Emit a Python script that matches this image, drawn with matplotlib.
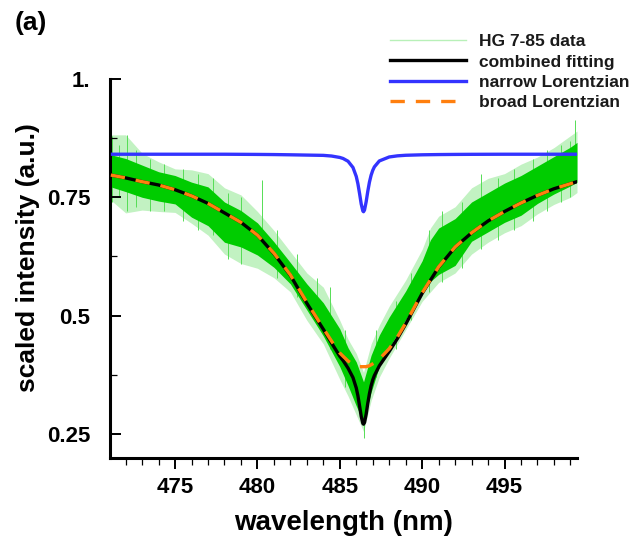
import matplotlib
matplotlib.use('Agg')
import matplotlib.pyplot as plt
from matplotlib.lines import Line2D
from matplotlib.ticker import MultipleLocator

plt.rcParams['font.family'] = ['Liberation Sans', 'DejaVu Sans']
plt.rcParams['font.weight'] = 'bold'

# ---- fitted curves ----
fit_x = [471.1, 472, 473, 474, 475, 476, 477, 478, 479, 480, 481, 482, 483, 484,
         484.5, 485, 485.2, 485.5, 485.8, 486.0, 486.1, 486.2, 486.3, 486.4, 486.44,
         486.5, 486.6, 486.7, 486.8, 486.9, 487.0, 487.1, 487.4, 488, 488.5, 489,
         490, 491, 492, 493, 494, 495, 496, 497, 498, 499.4]
broad_y = [0.797, 0.791, 0.783, 0.776, 0.766, 0.753, 0.737, 0.717, 0.697, 0.670,
           0.632, 0.586, 0.528, 0.473, 0.446, 0.421, 0.414, 0.404, 0.397, 0.394,
           0.393, 0.392, 0.392, 0.392, 0.392, 0.392, 0.392, 0.393, 0.394, 0.396,
           0.398, 0.400, 0.408, 0.430, 0.455, 0.484, 0.548, 0.603, 0.645, 0.675,
           0.700, 0.720, 0.738, 0.754, 0.768, 0.783]
narrow_y = [0.841, 0.841, 0.841, 0.841, 0.841, 0.841, 0.841, 0.841, 0.8408, 0.8406,
            0.8403, 0.8398, 0.8392, 0.8386, 0.8372, 0.8342, 0.8320, 0.8262, 0.813,
            0.794, 0.7785, 0.758, 0.736, 0.7211, 0.7195, 0.723, 0.7405, 0.7627,
            0.782, 0.7965, 0.8069, 0.8143, 0.8268, 0.8352, 0.8376, 0.8388, 0.8398,
            0.8403, 0.8406, 0.8408, 0.8409, 0.841, 0.841, 0.841, 0.841, 0.841]
combined_y = [0.797, 0.791, 0.783, 0.776, 0.766, 0.753, 0.737, 0.717, 0.697, 0.670,
              0.631, 0.585, 0.526, 0.471, 0.442, 0.414, 0.405, 0.389, 0.369, 0.347,
              0.3305, 0.309, 0.287, 0.2721, 0.2705, 0.274, 0.2915, 0.3147, 0.335,
              0.3515, 0.3639, 0.3733, 0.3938, 0.4242, 0.4516, 0.4818, 0.5468,
              0.6023, 0.6446, 0.6748, 0.6999, 0.720, 0.738, 0.754, 0.768, 0.783]

data_x = [471.1, 472, 473, 474, 475, 476, 477, 478, 479, 480, 481, 482, 483, 484,
          485, 485.5, 486.0, 486.44, 486.9, 487.4, 488, 489, 490, 490.5, 491, 492,
          493, 494, 495, 496, 497, 498, 499, 499.4]
data_core_lo = [0.772, 0.762, 0.750, 0.742, 0.736, 0.708, 0.690, 0.655, 0.645, 0.628,
                0.602, 0.567, 0.512, 0.457, 0.392, 0.352, 0.309, 0.275, 0.338, 0.393,
                0.432, 0.492, 0.547, 0.572, 0.587, 0.606, 0.657, 0.677, 0.697, 0.712,
                0.737, 0.757, 0.774, 0.782]
data_core_hi = [0.840, 0.832, 0.818, 0.804, 0.796, 0.782, 0.772, 0.740, 0.722, 0.696,
                0.656, 0.612, 0.567, 0.527, 0.472, 0.432, 0.402, 0.360, 0.416, 0.459,
                0.497, 0.552, 0.616, 0.660, 0.685, 0.705, 0.740, 0.760, 0.780, 0.796,
                0.816, 0.836, 0.856, 0.866]
data_outer_lo = [0.744, 0.717, 0.723, 0.720, 0.718, 0.695, 0.670, 0.630, 0.610, 0.600,
                 0.580, 0.550, 0.490, 0.440, 0.365, 0.330, 0.290, 0.255, 0.320, 0.370,
                 0.410, 0.470, 0.530, 0.550, 0.570, 0.590, 0.630, 0.655, 0.675, 0.690,
                 0.715, 0.735, 0.750, 0.760]
data_outer_hi = [0.882, 0.882, 0.843, 0.825, 0.810, 0.808, 0.800, 0.770, 0.755, 0.720,
                 0.680, 0.635, 0.590, 0.560, 0.490, 0.450, 0.420, 0.380, 0.440, 0.480,
                 0.520, 0.575, 0.640, 0.685, 0.710, 0.730, 0.770, 0.790, 0.800, 0.820,
                 0.835, 0.855, 0.880, 0.890]
spike_x = [471.2, 471.6, 472.1, 472.6, 473.5, 474.3, 475.5, 476.4, 477.3, 478.2,
           479.0, 480.3, 481.2, 482.4, 483.6, 484.4, 485.3, 486.45, 487.2, 488.4,
           489.3, 490.4, 491.2, 492.4, 493.6, 494.6, 495.6, 496.7, 497.6, 498.4,
           499.0, 499.25]
spike_lo = [0.740, 0.750, 0.720, 0.730, 0.720, 0.720, 0.700, 0.680, 0.670, 0.620,
            0.610, 0.660, 0.580, 0.540, 0.480, 0.430, 0.350, 0.241, 0.370, 0.430,
            0.490, 0.550, 0.570, 0.600, 0.640, 0.660, 0.680, 0.700, 0.720, 0.740,
            0.750, 0.790]
spike_hi = [0.880, 0.860, 0.882, 0.850, 0.830, 0.820, 0.810, 0.800, 0.790, 0.760,
            0.750, 0.786, 0.680, 0.630, 0.580, 0.560, 0.470, 0.300, 0.470, 0.530,
            0.590, 0.680, 0.720, 0.740, 0.800, 0.790, 0.810, 0.830, 0.850, 0.860,
            0.870, 0.913]

xticks = [475, 480, 485, 490, 495]
yticks = [0.25, 0.5, 0.75, 1.0]
ytick_labels = ['0.25', '0.5', '0.75', '1.']

W, H = 631, 539
fig = plt.figure(figsize=(W / 100, H / 100), dpi=100)
ax = fig.add_axes([110 / W, 1 - 458 / H, 467 / W, 379 / H])

green = '#00cc00'
ax.fill_between(data_x, data_outer_lo, data_outer_hi, color='#c2f2c2', lw=0, zorder=1)
ax.vlines(spike_x, spike_lo, spike_hi, color='#55dd55', lw=0.7, zorder=1.5)
ax.fill_between(data_x, data_core_lo, data_core_hi, color=green, lw=0, zorder=2)

ax.plot(fit_x, narrow_y, color='#3333ff', lw=2.4, zorder=4, solid_capstyle='butt')
ax.plot(fit_x, combined_y, color='black', lw=2.4, zorder=5)
ax.plot(fit_x, broad_y, color='#ff7f0e', lw=2.4, dashes=(4.3, 3.3), zorder=6)

ax.set_xlim(471.05, 499.4)
ax.set_ylim(0.199, 1.0)
ax.set_xticks(xticks)
ax.xaxis.set_minor_locator(MultipleLocator(1))
ax.set_yticks(yticks)
ax.set_yticklabels(ytick_labels)
ax.yaxis.set_minor_locator(MultipleLocator(0.125))

for s in ['top', 'right']:
    ax.spines[s].set_visible(False)
for s in ['left', 'bottom']:
    ax.spines[s].set_linewidth(2.2)

ax.tick_params(axis='x', which='major', direction='out', length=8, width=1.4,
               labelsize=16, pad=6)
ax.tick_params(axis='x', which='minor', direction='out', length=5, width=0.9)
ax.tick_params(axis='y', which='major', direction='in', length=8, width=1.4,
               labelsize=16, pad=14)
ax.tick_params(axis='y', which='minor', direction='in', length=5, width=0.9)
for lab in ax.get_xticklabels() + ax.get_yticklabels():
    lab.set_fontweight('bold')

ax.set_xlabel('wavelength (nm)', fontsize=20, fontweight='bold', labelpad=8)
ax.set_ylabel('scaled intensity (a.u.)', fontsize=19, fontweight='bold')
ax.yaxis.set_label_coords(-0.15, 0.53)

fig.text(15 / W, 1 - 11 / H, '(a)', fontsize=19, fontweight='bold', ha='left', va='top')

handles = [
    Line2D([], [], color='#b8f0b8', lw=1.0),
    Line2D([], [], color='black', lw=2.4),
    Line2D([], [], color='#3333ff', lw=2.4),
    Line2D([], [], color='#ff7f0e', lw=2.4, dashes=(4.3, 3.3)),
]
labels = ['HG 7-85 data', 'combined fitting', 'narrow Lorentzian', 'broad Lorentzian']
leg = fig.legend(handles, labels, loc='upper left', bbox_to_anchor=(390 / W, 1 - 34 / H),
                 frameon=False, borderpad=0, borderaxespad=0, handlelength=4.4,
                 handletextpad=0.7, labelspacing=0.3,
                 prop={'family': ['Liberation Sans'], 'weight': 'bold', 'size': 12.5})
for t in leg.get_texts():
    t.set_color('#1a1a1a')

fig.savefig('out.png', dpi=100)
